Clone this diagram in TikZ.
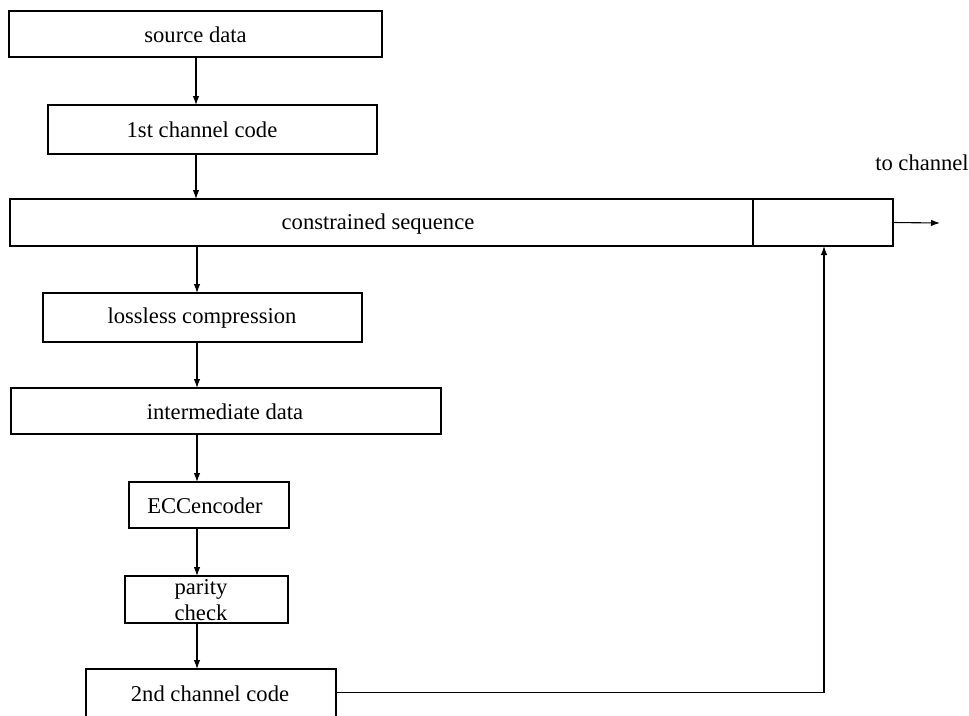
\documentclass[tikz,border=0pt]{standalone}
\usepackage{fontspec}
\setmainfont{Liberation Serif}
\usetikzlibrary{arrows.meta}
\begin{document}
\begin{tikzpicture}[x=1pt,y=-1pt,
  thinbox/.style={draw,line width=1.3pt,inner sep=0pt,outer sep=0pt},
  thickbox/.style={draw,line width=2.6pt,inner sep=0pt,outer sep=0pt},
  lbl/.style={font=\fontsize{22.6}{24}\selectfont,inner sep=0pt},
  arr/.style={line width=1.1pt,-{Latex[length=9pt,width=6.5pt]}}]
\useasboundingbox (0,0) rectangle (969,715);
\begin{scope}
\clip (0,0) rectangle (969,715);
% boxes
\node[thinbox,minimum width=373pt,minimum height=46pt] (src) at (195.5,34) {};
\node[thickbox,minimum width=329pt,minimum height=49pt] (c1) at (212.5,129.5) {};
\node[thinbox,minimum width=883pt,minimum height=47pt] (cs) at (451.5,222.5) {};
\node[thickbox,minimum width=319pt,minimum height=49pt] (lc) at (202.5,317.5) {};
\node[thinbox,minimum width=430pt,minimum height=46pt] (im) at (226,411) {};
\node[thickbox,minimum width=160pt,minimum height=46pt] (ecc) at (209,505) {};
\node[thinbox,minimum width=163pt,minimum height=47pt] (pc) at (206.5,599.5) {};
\node[thickbox,minimum width=250pt,minimum height=70pt] (c2) at (211,704) {};
\coordinate (dtop) at (753,199);
\coordinate (dbot) at (753,246);
\draw[line width=2.6pt] (dtop) -- (dbot);
% labels
\node[lbl] (tsrc) at (195.5,35) {source data};
\node[lbl] (tc1) at (202,130) {1st channel code};
\node[lbl] (tcs) at (378,224) {constrained sequence};
\node[lbl] (tlc) at (202,318) {lossless compression};
\node[lbl] (tim) at (225,412) {intermediate data};
\node[lbl] (tecc) at (205,506) {ECCencoder};
\node[lbl] (tpc1) at (201,589) {parity};
\node[lbl] (tpc2) at (201,613) {check};
\node[lbl] (tc2) at (210,694) {2nd channel code};
\node[lbl] (tch) at (922,163) {to channel};
% connectors
\draw[arr] (196,0 |- src.south) -- (196,0 |- c1.north);
\draw[arr] (196,0 |- c1.south) -- (196,0 |- cs.north);
\draw[arr] (197,0 |- cs.south) -- (197,0 |- lc.north);
\draw[arr] (197,0 |- lc.south) -- (197,0 |- im.north);
\draw[arr] (197,0 |- im.south) -- (197,0 |- ecc.north);
\draw[arr] (197,0 |- ecc.south) -- (197,0 |- pc.north);
\draw[arr] (197,0 |- pc.south) -- (197,0 |- c2.north);
\coordinate (out) at (940,223);
\draw[arr] (cs.east) -- (out);
\coordinate (c2r) at (336,692.5);
\coordinate (turn) at (824,692.5);
\draw[arr] (c2r) -- (turn) -- (824,0 |- cs.south);
\end{scope}
\end{tikzpicture}
\end{document}
